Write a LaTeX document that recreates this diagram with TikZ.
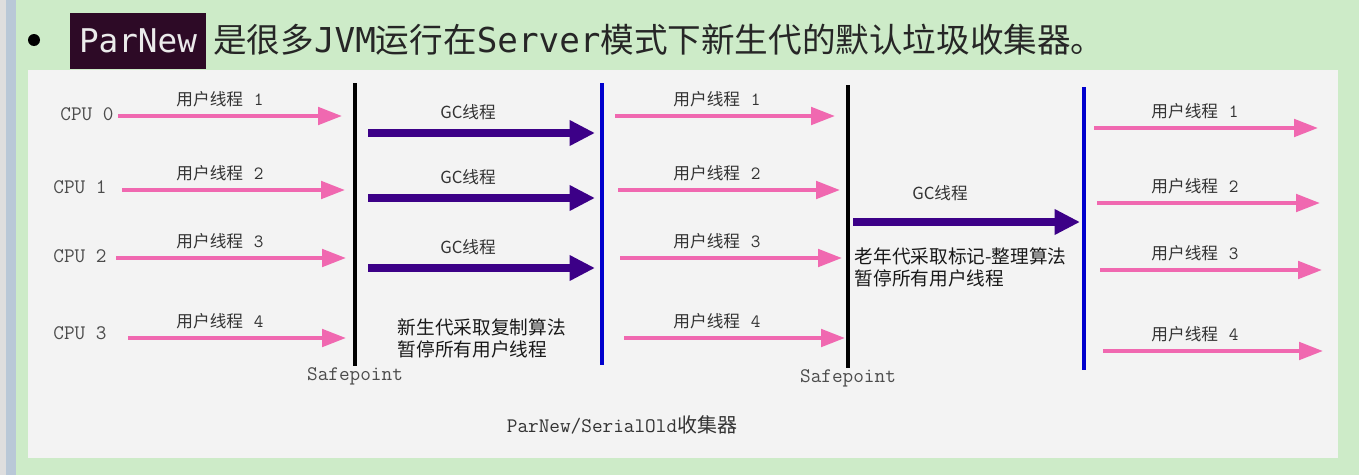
\documentclass[tikz,border=0pt]{standalone}
\usepackage{fontspec}
\newfontfamily\cjk{Noto Sans CJK SC}
\newfontfamily\hdmono{DejaVu Sans Mono}
\usetikzlibrary{arrows.meta}

\definecolor{slidegreen}{RGB}{205,235,200}
\definecolor{panelgray}{RGB}{243,243,243}
\definecolor{userpink}{RGB}{240,104,176}
\definecolor{gcpurple}{RGB}{60,0,135}
\definecolor{barblue}{RGB}{0,0,205}
\definecolor{boxplum}{RGB}{45,10,38}
\definecolor{edgeblue}{RGB}{185,200,215}

\begin{document}
\begin{tikzpicture}[
  x=0.75pt,y=-0.75pt,
  user/.style={-{Triangle[length=18pt,width=13pt]},line width=3pt,draw=userpink},
  gc/.style={-{Triangle[length=19pt,width=18pt]},line width=6.5pt,draw=gcpurple},
  safeline/.style={line width=3pt,black},
  resume/.style={line width=3.2pt,barblue},
  cpulabel/.style={font=\ttfamily\fontsize{15.5}{16}\selectfont,text=black!70},
  ulabel/.style={font=\fontsize{12.5}{14}\selectfont,text=black!80},
  gclabel/.style={font=\cjk\fontsize{12.5}{14}\selectfont,text=black!80},
  note/.style={font=\cjk\fontsize{14}{16.5}\selectfont,align=left,anchor=west,text=black!90}
]
  % slide background
  \fill[slidegreen] (0,0) rectangle (1359,475);
  \fill[black!13] (0,0) rectangle (6,475);
  \fill[edgeblue] (6,0) rectangle (16,475);
  \fill[panelgray] (28,70) rectangle (1338,458);
  \useasboundingbox (0,0) rectangle (1359,475);

  % heading
  \fill[black] (34,40) circle (6);
  \node[fill=boxplum,text=white!92!black,font=\hdmono\fontsize{24.5}{28}\selectfont,
    minimum width=102pt,minimum height=42pt,inner sep=0pt] (parnew) at (138,41) {ParNew};
  \node[anchor=west,inner sep=0pt,text=black!85] (title) at (213,40)
    {\cjk\fontsize{25.2}{28}\selectfont 是很多{\hdmono\fontsize{25.7}{28}\selectfont JVM}运行在{\hdmono\fontsize{25.7}{28}\selectfont Server}模式下新生代的默认垃圾收集器。};

  % safepoints and resume lines
  \coordinate (sp1top) at (355,83);  \coordinate (sp1bot) at (355,366);
  \coordinate (rs1top) at (602,83);  \coordinate (rs1bot) at (602,365);
  \coordinate (sp2top) at (848,85);  \coordinate (sp2bot) at (848,368);
  \coordinate (rs2top) at (1084,87); \coordinate (rs2bot) at (1084,370);
  \draw[safeline] (sp1top) -- (sp1bot);
  \draw[safeline] (sp2top) -- (sp2bot);
  \draw[resume] (rs1top) -- (rs1bot);
  \draw[resume] (rs2top) -- (rs2bot);
  \node[cpulabel,below=-2pt] (safe1) at (sp1bot) {Safepoint};
  \node[cpulabel,below=-2pt] (safe2) at (sp2bot) {Safepoint};

  % cpus
  \foreach \i/\x/\y in {0/87/114,1/80/187,2/80/256,3/80/333}
    \node[cpulabel] (cpu\i) at (\x,\y) {CPU \i};

  % user threads, three phases
  \foreach \i/\y/\xa/\xb in {1/116/118/342,2/190/122/345,3/258/116/346,4/338/128/346}{
    \coordinate (ua\i) at (\xa,\y); \coordinate (ub\i) at (\xb,\y);
    \draw[user] (ua\i) -- (ub\i);
    \node[ulabel] (ul\i) at (220,\y-17) {{\cjk 用户线程}\ \ {\ttfamily\fontsize{14}{14}\selectfont\i}};
  }
  \foreach \i/\y/\xa/\xb in {1/116/615/835,2/190/618/840,3/258/620/842,4/338/624/845}{
    \coordinate (va\i) at (\xa,\y); \coordinate (vb\i) at (\xb,\y);
    \draw[user] (va\i) -- (vb\i);
    \node[ulabel] (vl\i) at (717,\y-17) {{\cjk 用户线程}\ \ {\ttfamily\fontsize{14}{14}\selectfont\i}};
  }
  \foreach \i/\y/\xa/\xb in {1/128/1094/1318,2/203/1097/1320,3/270/1100/1322,4/351/1103/1323}{
    \coordinate (wa\i) at (\xa,\y); \coordinate (wb\i) at (\xb,\y);
    \draw[user] (wa\i) -- (wb\i);
    \node[ulabel] (wl\i) at (1195,\y-17) {{\cjk 用户线程}\ \ {\ttfamily\fontsize{14}{14}\selectfont\i}};
  }

  % gc threads
  \foreach \i/\y in {1/133,2/198,3/268}{
    \coordinate (ga\i) at (368,\y); \coordinate (gb\i) at (595,\y);
    \draw[gc] (ga\i) -- (gb\i);
    \node[gclabel] (gl\i) at (468,\y-21) {GC线程};
  }
  \coordinate (oa) at (853,222); \coordinate (ob) at (1080,222);
  \draw[gc] (oa) -- (ob);
  \node[gclabel] (ol) at (940,193) {GC线程};

  \node[note] (young) at (393,338) {新生代采取复制算法\\暂停所有用户线程};
  \node[note] (old) at (850,267) {老年代采取标记-整理算法\\暂停所有用户线程};

  \node[font=\fontsize{15.5}{16}\selectfont,text=black!80] (caption) at (622,425)
    {{\ttfamily ParNew/SerialOld}{\cjk\fontsize{15}{16}\selectfont 收集器}};
\end{tikzpicture}
\end{document}
